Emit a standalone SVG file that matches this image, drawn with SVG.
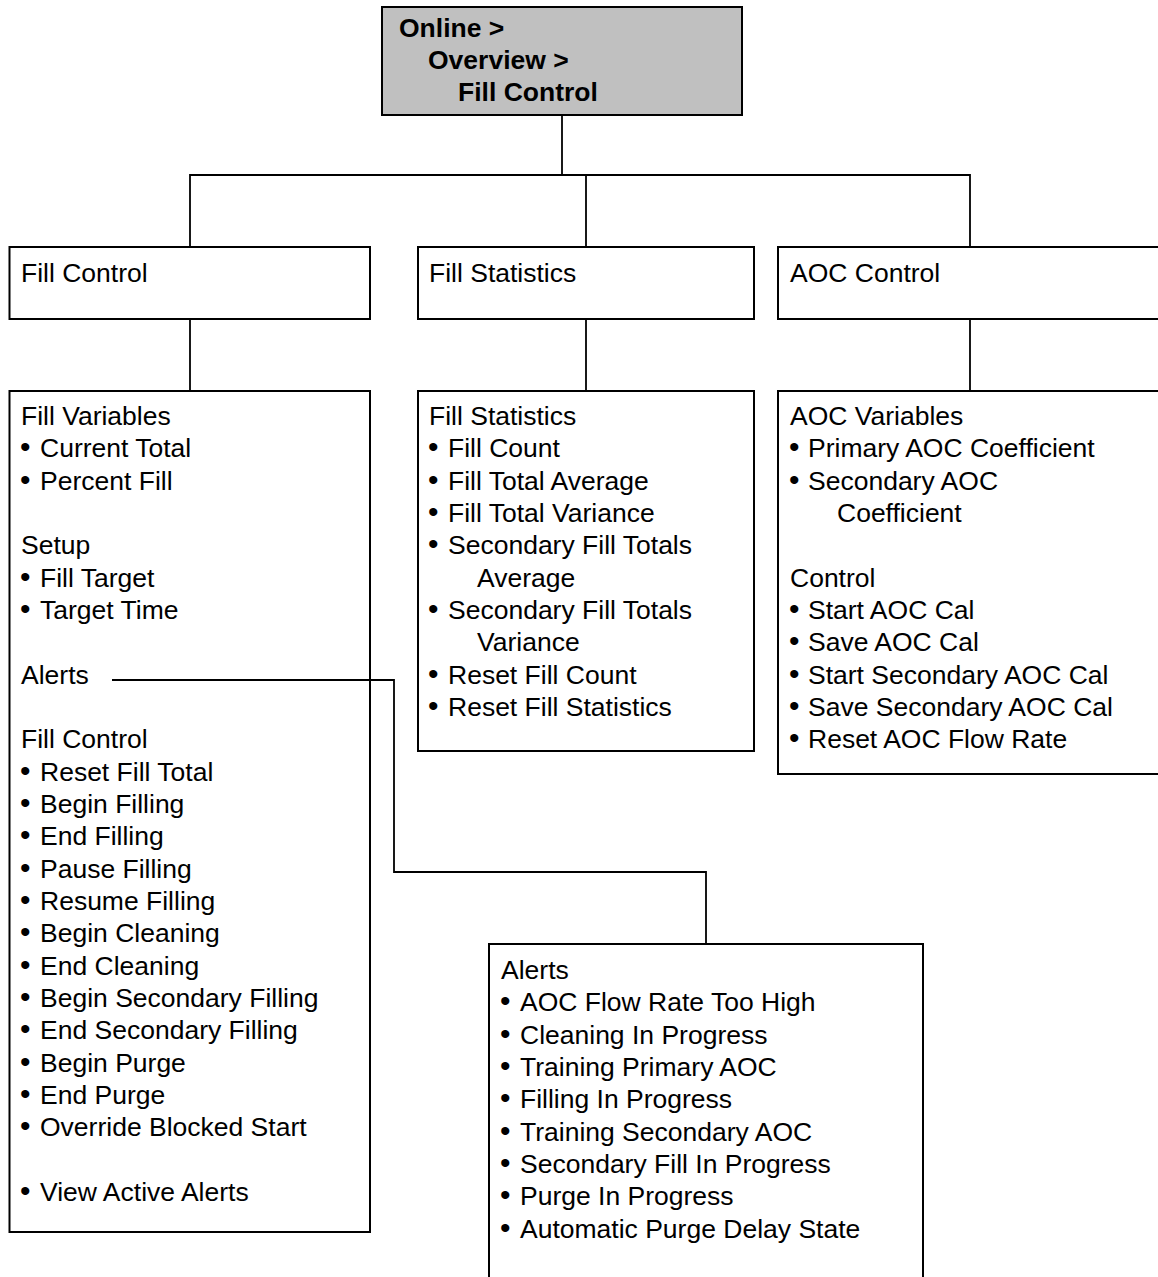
<svg xmlns="http://www.w3.org/2000/svg" width="1158" height="1277" viewBox="0 0 1158 1277">
<style>
.box{fill:#fff;stroke:#000;stroke-width:2}
.top{fill:#c0c0c0;stroke:#000;stroke-width:2}
.ln{fill:none;stroke:#000;stroke-width:1.8}
text{font-family:"Liberation Sans",Arial,sans-serif;font-size:26.5px;fill:#000}
.b{font-weight:bold}
.d{font-size:30px}
</style>
<rect width="1158" height="1277" fill="#fff"/>
<g id="root">
<rect class="top" x="382" y="7" width="360" height="108"/>
<text class="b" x="399" y="37">Online &gt;</text>
<text class="b" x="428" y="69">Overview &gt;</text>
<text class="b" x="458" y="101">Fill Control</text>
</g>
<g id="fill-control">
<rect class="box" x="9.5" y="247" width="360.5" height="72"/>
<text x="21" y="282">Fill Control</text>
</g>
<g id="fill-statistics">
<rect class="box" x="418" y="247" width="336" height="72"/>
<text x="429" y="282">Fill Statistics</text>
</g>
<g id="aoc-control">
<rect class="box" x="778" y="247" width="420" height="72"/>
<text x="790" y="282">AOC Control</text>
</g>
<g id="fill-control-items">
<rect class="box" x="9.5" y="391" width="360.5" height="841"/>
<text x="21" y="425">Fill Variables</text>
<text class="d" x="20" y="457.3">•</text><text x="40" y="457.3">Current Total</text>
<text class="d" x="20" y="489.7">•</text><text x="40" y="489.7">Percent Fill</text>
<text x="21" y="554.3">Setup</text>
<text class="d" x="20" y="586.7">•</text><text x="40" y="586.7">Fill Target</text>
<text class="d" x="20" y="619">•</text><text x="40" y="619">Target Time</text>
<text x="21" y="683.7">Alerts</text>
<text x="21" y="748.3">Fill Control</text>
<text class="d" x="20" y="780.7">•</text><text x="40" y="780.7">Reset Fill Total</text>
<text class="d" x="20" y="813">•</text><text x="40" y="813">Begin Filling</text>
<text class="d" x="20" y="845.3">•</text><text x="40" y="845.3">End Filling</text>
<text class="d" x="20" y="877.7">•</text><text x="40" y="877.7">Pause Filling</text>
<text class="d" x="20" y="910">•</text><text x="40" y="910">Resume Filling</text>
<text class="d" x="20" y="942.3">•</text><text x="40" y="942.3">Begin Cleaning</text>
<text class="d" x="20" y="974.7">•</text><text x="40" y="974.7">End Cleaning</text>
<text class="d" x="20" y="1007">•</text><text x="40" y="1007">Begin Secondary Filling</text>
<text class="d" x="20" y="1039.3">•</text><text x="40" y="1039.3">End Secondary Filling</text>
<text class="d" x="20" y="1071.7">•</text><text x="40" y="1071.7">Begin Purge</text>
<text class="d" x="20" y="1104">•</text><text x="40" y="1104">End Purge</text>
<text class="d" x="20" y="1136.3">•</text><text x="40" y="1136.3">Override Blocked Start</text>
<text class="d" x="20" y="1201">•</text><text x="40" y="1201">View Active Alerts</text>
</g>
<g id="fill-statistics-items">
<rect class="box" x="418" y="391" width="336" height="360"/>
<text x="429" y="425">Fill Statistics</text>
<text class="d" x="428" y="457.3">•</text><text x="448" y="457.3">Fill Count</text>
<text class="d" x="428" y="489.7">•</text><text x="448" y="489.7">Fill Total Average</text>
<text class="d" x="428" y="522">•</text><text x="448" y="522">Fill Total Variance</text>
<text class="d" x="428" y="554.3">•</text><text x="448" y="554.3">Secondary Fill Totals</text>
<text x="477" y="586.7">Average</text>
<text class="d" x="428" y="619">•</text><text x="448" y="619">Secondary Fill Totals</text>
<text x="477" y="651.3">Variance</text>
<text class="d" x="428" y="683.7">•</text><text x="448" y="683.7">Reset Fill Count</text>
<text class="d" x="428" y="716">•</text><text x="448" y="716">Reset Fill Statistics</text>
</g>
<g id="aoc-control-items">
<rect class="box" x="778" y="391" width="420" height="383"/>
<text x="790" y="425">AOC Variables</text>
<text class="d" x="789" y="457.3">•</text><text x="808" y="457.3">Primary AOC Coefficient</text>
<text class="d" x="789" y="489.7">•</text><text x="808" y="489.7">Secondary AOC</text>
<text x="837" y="522">Coefficient</text>
<text x="790" y="586.7">Control</text>
<text class="d" x="789" y="619">•</text><text x="808" y="619">Start AOC Cal</text>
<text class="d" x="789" y="651.3">•</text><text x="808" y="651.3">Save AOC Cal</text>
<text class="d" x="789" y="683.7">•</text><text x="808" y="683.7">Start Secondary AOC Cal</text>
<text class="d" x="789" y="716">•</text><text x="808" y="716">Save Secondary AOC Cal</text>
<text class="d" x="789" y="748.3">•</text><text x="808" y="748.3">Reset AOC Flow Rate</text>
</g>
<g id="alerts">
<rect class="box" x="489" y="944" width="434" height="400"/>
<text x="501" y="979">Alerts</text>
<text class="d" x="500" y="1011.3">•</text><text x="520" y="1011.3">AOC Flow Rate Too High</text>
<text class="d" x="500" y="1043.7">•</text><text x="520" y="1043.7">Cleaning In Progress</text>
<text class="d" x="500" y="1076">•</text><text x="520" y="1076">Training Primary AOC</text>
<text class="d" x="500" y="1108.3">•</text><text x="520" y="1108.3">Filling In Progress</text>
<text class="d" x="500" y="1140.7">•</text><text x="520" y="1140.7">Training Secondary AOC</text>
<text class="d" x="500" y="1173">•</text><text x="520" y="1173">Secondary Fill In Progress</text>
<text class="d" x="500" y="1205.3">•</text><text x="520" y="1205.3">Purge In Progress</text>
<text class="d" x="500" y="1237.7">•</text><text x="520" y="1237.7">Automatic Purge Delay State</text>
</g>
<g id="connectors">
<polyline class="ln" points="562,115 562,175"/>
<polyline class="ln" points="190,247 190,175 970,175 970,247"/>
<polyline class="ln" points="586,175 586,247"/>
<polyline class="ln" points="190,319 190,391"/>
<polyline class="ln" points="586,319 586,391"/>
<polyline class="ln" points="970,319 970,391"/>
<polyline class="ln" points="112,680 394,680 394,872 706,872 706,944"/>
</g>
</svg>
